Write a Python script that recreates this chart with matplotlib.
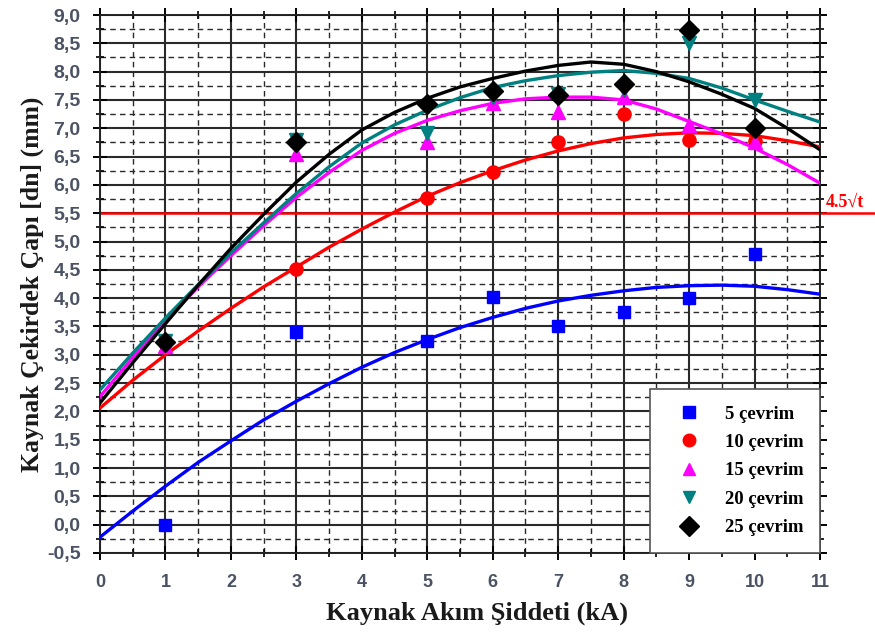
import numpy as np
import matplotlib
matplotlib.use("Agg")
import matplotlib.pyplot as plt
from matplotlib.ticker import MultipleLocator, FuncFormatter

# measured points (x = welding current, kA)
pt_x = [1, 3, 5, 6, 7, 8, 9, 10]
pt_5 = [0.0, 3.40, 3.25, 4.02, 3.50, 3.75, 4.00, 4.78]
pt_10 = [3.20, 4.52, 5.77, 6.23, 6.76, 7.26, 6.80, 6.78]
pt_15 = [3.15, 6.55, 6.75, 7.45, 7.28, 7.55, 7.05, 6.75]
pt_20 = [3.25, 6.80, 6.92, 7.55, 7.60, 7.68, 8.50, 7.50]
pt_25 = [3.22, 6.76, 7.43, 7.66, 7.58, 7.78, 8.73, 7.00]

# fitted curves, every 0.5 kA
fit_x = [0, 0.5, 1, 1.5, 2, 2.5, 3, 3.5, 4, 4.5, 5, 5.5, 6, 6.5, 7, 7.5,
         8, 8.5, 9, 9.5, 10, 10.5, 11]
fit_5 = [-0.22, 0.24, 0.68, 1.10, 1.48, 1.85, 2.18, 2.49, 2.78, 3.04, 3.27,
         3.48, 3.66, 3.82, 3.95, 4.05, 4.13, 4.19, 4.22, 4.23, 4.21, 4.15, 4.07]
fit_10 = [2.06, 2.55, 3.00, 3.42, 3.82, 4.20, 4.55, 4.90, 5.22, 5.52, 5.80,
          6.04, 6.25, 6.44, 6.60, 6.73, 6.83, 6.89, 6.92, 6.91, 6.87, 6.78, 6.67]
fit_15 = [2.26, 2.95, 3.60, 4.20, 4.75, 5.28, 5.78, 6.22, 6.61, 6.91, 7.14,
          7.31, 7.44, 7.52, 7.55, 7.55, 7.50, 7.34, 7.12, 6.90, 6.65, 6.36, 6.03]
fit_20 = [2.38, 3.03, 3.65, 4.24, 4.80, 5.33, 5.85, 6.32, 6.74, 7.06, 7.32,
          7.54, 7.72, 7.84, 7.93, 7.99, 8.02, 7.97, 7.88, 7.71, 7.50, 7.30, 7.11]
fit_25 = [2.15, 2.86, 3.55, 4.23, 4.88, 5.48, 6.05, 6.54, 6.97, 7.28, 7.53,
          7.73, 7.88, 8.01, 8.11, 8.17, 8.13, 8.00, 7.82, 7.60, 7.35, 7.00, 6.62]

labels = ["5 çevrim", "10 çevrim", "15 çevrim", "20 çevrim", "25 çevrim"]
colors = ["#0000ff", "#ff0000", "#ff00ff", "#008080", "#000000"]
markers = ["s", "o", "^", "v", "D"]
msizes = [9, 9.5, 9.5, 9.5, 10.5]

limit_val = 5.5
limit_label = "4.5\u221at"

fig = plt.figure(figsize=(8.75, 6.33), dpi=100)
ax = fig.add_axes([0.1143, 0.1264, 0.8229, 0.8499])

ax.set_xlim(0, 11)
ax.set_ylim(-0.5, 9.0)
ax.xaxis.set_major_locator(MultipleLocator(1))
ax.xaxis.set_minor_locator(MultipleLocator(0.5))
ax.yaxis.set_major_locator(MultipleLocator(0.5))
ax.yaxis.set_minor_locator(MultipleLocator(0.25))
ax.yaxis.set_major_formatter(FuncFormatter(lambda v, p: f"{v:.1f}".replace(".", ",")))

ax.grid(which="major", color="#2a2a2a", lw=1.5, ls="-", zorder=0)
ax.grid(which="minor", color="#2a2a2a", lw=1.0, ls=(0, (4, 3)), zorder=0)
ax.set_axisbelow(True)

ax.tick_params(which="major", direction="inout", length=10, width=1.4,
               top=True, right=True, labelsize=14, labelcolor="#4a5263")
ax.tick_params(axis="y", which="major", pad=9)
ax.tick_params(axis="x", which="major", pad=10, labelsize=13)
ax.tick_params(which="minor", direction="inout", length=6, width=1.2,
               top=True, right=True)
for lab in ax.get_xticklabels() + ax.get_yticklabels():
    lab.set_fontweight("bold")
    lab.set_family("Liberation Sans")
for sp in ax.spines.values():
    sp.set_linewidth(1.4)
    sp.set_color("#222222")

# limit line runs out past the frame
ax.plot([0, 11.85], [limit_val, limit_val], color="#ff0000", lw=1.8,
        clip_on=False, zorder=2)
ax.text(11.08, limit_val + 0.05, limit_label, color="#ff0000", fontsize=13,
        fontweight="bold", family="Liberation Serif", ha="left", va="bottom")

fits = [fit_5, fit_10, fit_15, fit_20, fit_25]
pts = [pt_5, pt_10, pt_15, pt_20, pt_25]
for fy, c in zip(fits, colors):
    ax.plot(fit_x, fy, color=c, lw=2.4, zorder=3)
for py, c, m, ms, lab in zip(pts, colors, markers, msizes, labels):
    ax.plot(pt_x, py, ls="none", marker=m, ms=ms, color=c, mec=c,
            label=lab, zorder=4)

leg = ax.legend(loc="lower right", borderaxespad=0, frameon=True, fancybox=False,
                prop={"family": "Liberation Serif", "weight": "bold", "size": 13.5},
                borderpad=0.9, labelspacing=0.6, handletextpad=0.7,
                handlelength=2.4, markerscale=0.95)
leg.get_frame().set_edgecolor("#555555")
leg.get_frame().set_linewidth(1.2)
leg.get_frame().set_alpha(1)

ax.set_xlabel("Kaynak Akım Şiddeti (kA)", family="Liberation Serif",
              fontweight="bold", fontsize=19, color="#1a1a1a", labelpad=8)
ax.xaxis.label.set_x(0.523)
ax.set_ylabel("Kaynak Çekirdek Çapı [dn] (mm)", family="Liberation Serif",
              fontweight="bold", fontsize=18.5, color="#1a1a1a", labelpad=2)

fig.savefig("out.png", dpi=100)
